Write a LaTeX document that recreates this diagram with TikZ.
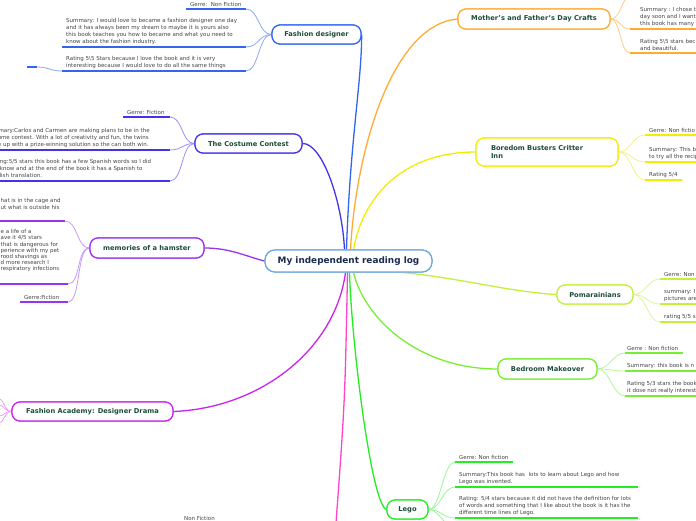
\documentclass[tikz,border=0pt]{standalone}
\usepackage{fontspec}
\setmainfont{DejaVu Sans}
\definecolor{cFD}{HTML}{3366EE}\definecolor{lFD}{HTML}{8FA8F5}
\definecolor{cCC}{HTML}{4433EE}\definecolor{lCC}{HTML}{9990F5}
\definecolor{cHM}{HTML}{9933EE}\definecolor{lHM}{HTML}{C79AF5}
\definecolor{cFA}{HTML}{CC22EE}\definecolor{lFA}{HTML}{E8A0F5}
\definecolor{cMO}{HTML}{FFAA33}\definecolor{lMO}{HTML}{FFCC88}
\definecolor{cBO}{HTML}{F2EE00}\definecolor{lBO}{HTML}{F5F08A}
\definecolor{cPO}{HTML}{C4F03A}\definecolor{lPO}{HTML}{DDF59A}
\definecolor{cBE}{HTML}{77EE33}\definecolor{lBE}{HTML}{B5F59A}
\definecolor{cLE}{HTML}{22EE22}\definecolor{lLE}{HTML}{99F599}
\definecolor{cPK}{HTML}{FF44CC}
\definecolor{cTX}{HTML}{444444}
\definecolor{cTT}{HTML}{1E4D3A}
\definecolor{cCT}{HTML}{1B2A4E}
\definecolor{cCB}{HTML}{6FA8DC}
\tikzset{
  leaf/.style={font=\fontsize{5.5}{6.8}\selectfont, text=cTX, align=left, inner sep=0pt, anchor=south west},
  ul/.style={line width=1.6pt},
  lc/.style={line width=0.8pt},
  mc/.style={line width=1.3pt},
  branch/.style={draw, fill=white, line width=1.2pt, rounded corners=8pt, text=cTT,
    font=\fontsize{6.7}{8.2}\selectfont\bfseries, inner sep=0pt},
  centre/.style={draw=cCB, fill=white, line width=1.2pt, rounded corners=10pt, text=cCT,
    font=\fontsize{8.9}{10.5}\selectfont\bfseries, inner sep=0pt}
}
\newcommand\leafR[6]{%
  \draw[ul,#2] (#3,#5) coordinate (#1a) -- (#4,#5) coordinate (#1b);
  \node[leaf] (#1) at (#3+4,#5-2.5) {#6};}
\begin{document}
\begin{tikzpicture}[x=1pt,y=-1pt]
\useasboundingbox (0,0) rectangle (696,520);
\path
 (348.5,261) node[centre, minimum width=167pt, minimum height=22pt] (c) {My independent reading log}
 (316.5,34.5) node[branch, draw=cFD, minimum width=89pt, minimum height=19pt] (fd) {Fashion designer}
 (248.5,143.5) node[branch, draw=cCC, minimum width=107pt, minimum height=19pt] (cc) {The Costume Contest}
 (147,248) node[branch, draw=cHM, minimum width=114pt, minimum height=20pt] (hm) {memories of a hamster}
 (92.5,411.5) node[branch, draw=cFA, minimum width=161pt, minimum height=19pt] (fa) {Fashion Academy: Designer Drama}
 (534,19) node[branch, draw=cMO, minimum width=152pt, minimum height=20pt] (mo) {Mother's and Father's Day Crafts}
 (547,152) node[branch, draw=cBO, minimum width=142pt, minimum height=28pt, text width=112pt, align=left] (bo) {Boredom Busters Critter\\Inn}
 (595,294.5) node[branch, draw=cPO, minimum width=76pt, minimum height=19pt] (po) {Pomarainians}
 (547.5,369) node[branch, draw=cBE, minimum width=99pt, minimum height=20pt] (be) {Bedroom Makeover}
 (407.5,509.5) node[branch, draw=cLE, minimum width=41pt, minimum height=19pt] (le) {Lego};

% main connectors
\draw[mc,cFD] ([xshift=-2pt]c.north) .. controls (350,140) and (362,80) .. (fd.east);
\draw[mc,cCC] (cc.east) .. controls (322,143) and (342,200) .. ([xshift=-4pt]c.north);
\draw[mc,cHM] (hm.east) .. controls (230,248) and (245,256) .. (c.west);
\draw[mc,cFA] (fa.east) .. controls (260,408) and (335,350) .. ([xshift=-3pt]c.south);
\draw[mc,cMO] (mo.west) .. controls (392,25) and (356,150) .. ([xshift=2pt]c.north);
\draw[mc,cBO] (bo.west) .. controls (400,152) and (362,200) .. ([xshift=5pt]c.north);
\draw[mc,cPO] (po.west) .. controls (510,292) and (460,278) .. ([xshift=55pt]c.south);
\draw[mc,cBE] (be.west) .. controls (420,369) and (365,320) .. ([xshift=5pt]c.south);
\draw[mc,cLE] (le.west) .. controls (372,505) and (352,350) .. ([xshift=1pt]c.south);
\coordinate (pk) at (336,523);
\draw[mc,cPK] ([xshift=-1pt]c.south) .. controls (345,400) .. (pk);

% Fashion designer leaves
\leafR{fdA}{cFD}{186}{246}{9}{Gerre:\ \ Non Fiction}
\leafR{fdB}{cFD}{62}{246}{47}{Summary: I would love to became a fashion designer one day\\and it has always been my dream to maybe it is yours also\\this book teaches you how to became and what you need to\\know about the fashion industry.}
\leafR{fdC}{cFD}{62}{246}{71}{Rating 5\textbackslash5 Stars because I love the book and it is very\\interesting because I would love to do all the same things}
\draw[ul,cFD] (27,67) coordinate (fdDa) -- (37,67) coordinate (fdDb);
\draw[lc,lFD] (fdCa) .. controls +(-12,0) and +(12,0) .. (fdDb);
\foreach \t in {fdAb,fdBb,fdCb} \draw[lc,lFD] (fd.west) .. controls +(-13,0) and +(13,0) .. (\t);

% Costume contest leaves
\leafR{ccA}{cCC}{123}{170}{117}{Gerre: Fiction}
\leafR{ccB}{cCC}{-18}{170}{150}{Summary:Carlos and Carmen are making plans to be in the\\costume contest. With a lot of creativity and fun, the twins\\come up with a prize-winning solution so the can both win.}
\leafR{ccC}{cCC}{-15}{170}{181}{Rating:5/5 stars this book has a few Spanish words so I did\\not know and at the end of the book it has a Spanish to\\English translation.}
\foreach \t in {ccAb,ccBb,ccCb} \draw[lc,lCC] (cc.west) .. controls +(-13,0) and +(13,0) .. (\t);

% Hamster leaves
\draw[ul,cHM] (-2,221) coordinate (hmAa) -- (65,221) coordinate (hmAb);
\node[leaf, anchor=north west] (hmA) at (0.5,198) {hat is in the cage and\\ut what is outside his};
\draw[ul,cHM] (-2,284) coordinate (hmBa) -- (68,284) coordinate (hmBb);
\node[leaf, anchor=north west, font=\fontsize{5.5}{6.1}\selectfont] (hmB) at (0.5,229.5) {e a life of a\\ave it 4/5 stars\\that is dangerous for\\perience with my pet\\rood shavings as\\d more research I\\respiratory infections};
\leafR{hmC}{cHM}{20}{68}{302}{Gerre:Fiction}
\foreach \t in {hmAb,hmBb,hmCb} \draw[lc,lHM] (hm.west) .. controls +(-13,0) and +(13,0) .. (\t);

% Fashion Academy stubs
\foreach \yy in {399,405,416,423} \draw[lc,lFA] (fa.west) .. controls +(-7,0) and +(5,0) .. (-1,\yy);

% Mother's and Father's day leaves
\draw[lc,lMO] (mo.east) .. controls +(10,0) and +(-6,0) .. (628,-2);
\draw[ul,cMO] (630,29) coordinate (moAa) -- (698,29);
\node[leaf] (moA) at (640,26.5) {Summary : I chose t\\day soon and I want\\this book has many};
\draw[ul,cMO] (630,53) coordinate (moBa) -- (698,53);
\node[leaf] (moB) at (640,50.5) {Rating 5\textbackslash5 stars bec\\and beautiful.};
\foreach \t in {moAa,moBa} \draw[lc,lMO] (mo.east) .. controls +(10,0) and +(-10,0) .. (\t);

% Boredom Busters leaves
\draw[ul,cBO] (645,135) coordinate (boAa) -- (698,135);
\node[leaf] (boA) at (649,132.5) {Gerre: Non fictio};
\draw[ul,cBO] (645,162) coordinate (boBa) -- (698,162);
\node[leaf] (boB) at (649,159.5) {Summary: This b\\to try all the recip};
\draw[ul,cBO] (645,180) coordinate (boCa) -- (682,180);
\node[leaf] (boC) at (649,177.5) {Rating 5/4};
\foreach \t in {boAa,boBa,boCa} \draw[lc,lBO] (bo.east) .. controls +(12,0) and +(-12,0) .. (\t);

% Pomarainians leaves
\draw[ul,cPO] (660,279) coordinate (poAa) -- (698,279);
\node[leaf] (poA) at (664,276.5) {Gerre: Non};
\draw[ul,cPO] (660,304) coordinate (poBa) -- (698,304);
\node[leaf] (poB) at (664,301.5) {summary: I\\pictures are};
\draw[ul,cPO] (660,322) coordinate (poCa) -- (698,322);
\node[leaf] (poC) at (664,319.5) {rating 5/5 s};
\foreach \t in {poAa,poBa,poCa} \draw[lc,lPO] (po.east) .. controls +(12,0) and +(-12,0) .. (\t);

% Bedroom Makeover leaves
\draw[ul,cBE] (625,353) coordinate (beAa) -- (683,353);
\node[leaf] (beA) at (627,350.5) {Gerre : Non fiction};
\draw[ul,cBE] (625,371) coordinate (beBa) -- (698,371);
\node[leaf] (beB) at (627,368.5) {Summary: this book is n};
\draw[ul,cBE] (625,396) coordinate (beCa) -- (698,396);
\node[leaf] (beC) at (627,393.5) {Rating 5/3 stars the book\\it dose not really interest};
\foreach \t in {beAa,beBa,beCa} \draw[lc,lBE] (be.east) .. controls +(12,0) and +(-12,0) .. (\t);

% Lego leaves
\draw[ul,cLE] (455,462) coordinate (leAa) -- (513,462);
\node[leaf] (leA) at (459,459.5) {Gerre: Non fiction};
\draw[ul,cLE] (455,487) coordinate (leBa) -- (638,487);
\node[leaf] (leB) at (459,484.5) {Summary:This book has\ \ lots to learn about Lego and how\\Lego was invented.};
\draw[ul,cLE] (455,518) coordinate (leCa) -- (638,518);
\node[leaf] (leC) at (459,515.5) {Rating: 5/4 stars because it did not have the definition for lots\\of words and something that I like about the book is it has the\\different time lines of Lego.};
\foreach \t in {leAa,leBa,leCa} \draw[lc,lLE] (le.east) .. controls +(12,0) and +(-12,0) .. (\t);
\coordinate (leD) at (452,526);
\draw[lc,lLE] (le.east) .. controls +(10,0) and +(-8,0) .. (leD);

% bottom text
\node[leaf, anchor=west] (nf) at (184,518) {Non Fiction};

% redraw nodes on top
\path
 (348.5,261) node[centre, minimum width=167pt, minimum height=22pt] {My independent reading log}
 (316.5,34.5) node[branch, draw=cFD, minimum width=89pt, minimum height=19pt] {Fashion designer}
 (248.5,143.5) node[branch, draw=cCC, minimum width=107pt, minimum height=19pt] {The Costume Contest}
 (147,248) node[branch, draw=cHM, minimum width=114pt, minimum height=20pt] {memories of a hamster}
 (92.5,411.5) node[branch, draw=cFA, minimum width=161pt, minimum height=19pt] {Fashion Academy: Designer Drama}
 (534,19) node[branch, draw=cMO, minimum width=152pt, minimum height=20pt] {Mother's and Father's Day Crafts}
 (547,152) node[branch, draw=cBO, minimum width=142pt, minimum height=28pt, text width=112pt, align=left] {Boredom Busters Critter\\Inn}
 (595,294.5) node[branch, draw=cPO, minimum width=76pt, minimum height=19pt] {Pomarainians}
 (547.5,369) node[branch, draw=cBE, minimum width=99pt, minimum height=20pt] {Bedroom Makeover}
 (407.5,509.5) node[branch, draw=cLE, minimum width=41pt, minimum height=19pt] {Lego};
\end{tikzpicture}
\end{document}
